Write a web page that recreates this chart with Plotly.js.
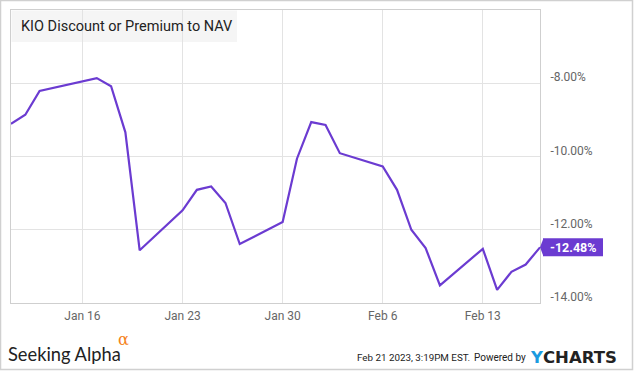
<!DOCTYPE html>
<html>
<head>
<meta charset="utf-8">
<script src="https://cdn.plot.ly/plotly-3.0.1.min.js"></script>
<style>
html,body{margin:0;padding:0;background:#fff;}
#chart{width:635px;height:371px;}
</style>
</head>
<body>
<div id="chart"></div>
<script>
// Data
const dates = ["2023-01-11","2023-01-12","2023-01-13","2023-01-17","2023-01-18","2023-01-19","2023-01-20",
  "2023-01-23","2023-01-24","2023-01-25","2023-01-26","2023-01-27",
  "2023-01-30","2023-01-31","2023-02-01","2023-02-02","2023-02-03",
  "2023-02-06","2023-02-07","2023-02-08","2023-02-09","2023-02-10",
  "2023-02-13","2023-02-14","2023-02-15","2023-02-16","2023-02-17"];
const values = [-9.11,-8.86,-8.21,-7.86,-8.08,-9.34,-12.56,
  -11.47,-10.91,-10.82,-11.27,-12.39,
  -11.79,-10.06,-9.06,-9.14,-9.91,
  -10.27,-10.91,-12.00,-12.50,-13.52,
  -12.52,-13.64,-13.15,-12.95,-12.48];
const xTickVals = ["2023-01-16","2023-01-23","2023-01-30","2023-02-06","2023-02-13"];
const xTickText = ["Jan 16","Jan 23","Jan 30","Feb 6","Feb 13"];
const yTickVals = [-8,-10,-12,-14];
const chartTitle = "KIO Discount or Premium to NAV";
const lastVal = values[values.length-1];

// pixel helpers (layout only)
const L=11, R=540, T=10, B=303;
const px = x => (x - L)/(R - L);
const py = y => (B - y)/(B - T);
const purple = "#6b3bd1";
const yPerPx = 8/(B-T);

const trace = {
  x: dates, y: values, type: "scatter", mode: "lines",
  line: {color: purple, width: 2.2}, hoverinfo: "skip"
};

const layout = {
  width: 635, height: 371,
  margin: {l: L, r: 635-R, t: T, b: 371-B},
  paper_bgcolor: "#fff", plot_bgcolor: "#fff",
  showlegend: false,
  font: {family: "Roboto, sans-serif", color: "#666", size: 12},
  xaxis: {
    type: "date", range: ["2023-01-11","2023-02-17"],
    tickvals: xTickVals, ticktext: xTickText,
    showgrid: true, gridcolor: "#e3e3e3", gridwidth: 1,
    showline: true, linecolor: "#cfcfcf", linewidth: 1, mirror: true,
    ticks: "", zeroline: false, ticklabelstandoff: 2,
    tickfont: {family: "Roboto, sans-serif", size: 12, color: "#666"}
  },
  yaxis: {
    range: [-14, -6], side: "right",
    tickvals: yTickVals, ticktext: yTickVals.map(v => v.toFixed(2) + "%"),
    showgrid: true, gridcolor: "#e3e3e3", gridwidth: 1,
    showline: true, linecolor: "#cfcfcf", linewidth: 1, mirror: true,
    ticks: "", zeroline: false, ticklabelstandoff: 7, ticklabelshift: -6,
    tickfont: {family: "Roboto, sans-serif", size: 12, color: "#666"}
  },
  shapes: [
    // outer border
    {type: "rect", xref: "paper", yref: "paper", x0: px(0.5), x1: px(632.5), y0: py(369.5), y1: py(0.5),
     line: {color: "#d0d0d0", width: 1.5}, fillcolor: "rgba(0,0,0,0)", layer: "below"},
    // title box
    {type: "rect", xref: "paper", yref: "paper", x0: px(11.5), x1: px(237), y0: py(42), y1: py(10.5),
     line: {width: 0}, fillcolor: "#f5f5f5", layer: "below"},
    // last value label box
    {type: "rect", xref: "paper", yref: "y", x0: px(543), x1: px(603),
     y0: lastVal - 9*yPerPx, y1: lastVal + 9*yPerPx, line: {width: 0}, fillcolor: purple},
    {type: "path", xref: "paper", yref: "y",
     path: "M " + px(540) + "," + lastVal + " L " + px(543.5) + "," + (lastVal + 9*yPerPx) +
           " L " + px(543.5) + "," + (lastVal - 9*yPerPx) + " Z",
     line: {width: 0}, fillcolor: purple}
  ],
  annotations: [
    {xref: "paper", yref: "paper", x: px(19), y: py(26.5), xanchor: "left", yanchor: "middle",
     text: chartTitle, showarrow: false, font: {family: "Roboto, sans-serif", size: 14.5, color: "#222"}},
    {xref: "paper", yref: "y", x: px(573), y: lastVal, xanchor: "center", yanchor: "middle",
     text: "<b>" + lastVal.toFixed(2) + "%</b>", showarrow: false,
     font: {family: "Roboto, sans-serif", size: 12.5, color: "#fff"}},
    // footer
    {xref: "paper", yref: "paper", x: px(7), y: py(354), xanchor: "left", yanchor: "middle", borderpad: 0,
     text: "Seeking Alpha", showarrow: false, font: {family: "Lato, sans-serif", size: 18.3, color: "#222"}},
    {xref: "paper", yref: "paper", x: px(117), y: py(340), xanchor: "left", yanchor: "middle", borderpad: 0,
     text: "α", showarrow: false, font: {family: "DejaVu Serif, serif", size: 16, color: "#f58220"}},
    {xref: "paper", yref: "paper", x: px(527), y: py(357.5), xanchor: "right", yanchor: "middle", borderpad: 0,
     text: "Powered by", showarrow: false,
     font: {family: "Roboto, sans-serif", size: 10, color: "#222"}},
    {xref: "paper", yref: "paper", x: px(471), y: py(357.5), xanchor: "right", yanchor: "middle", borderpad: 0,
     text: "Feb 21 2023, 3:19PM EST.", showarrow: false,
     font: {family: "Roboto, sans-serif", size: 9.8, color: "#222"}},
    {xref: "paper", yref: "paper", x: px(529), y: py(357.5), xanchor: "left", yanchor: "middle", borderpad: 0,
     text: "Y", showarrow: false,
     font: {family: "DejaVu Sans, sans-serif", size: 16.5, color: "#1c9be0", weight: 700}},
    {xref: "paper", yref: "paper", x: px(542), y: py(357.5), xanchor: "left", yanchor: "middle", borderpad: 0,
     text: "CHARTS", showarrow: false,
     font: {family: "DejaVu Sans, sans-serif", size: 16.5, color: "#222", weight: 700}}
  ]
};

Plotly.newPlot("chart", [trace], layout, {staticPlot: true, displayModeBar: false});
</script>
</body>
</html>
